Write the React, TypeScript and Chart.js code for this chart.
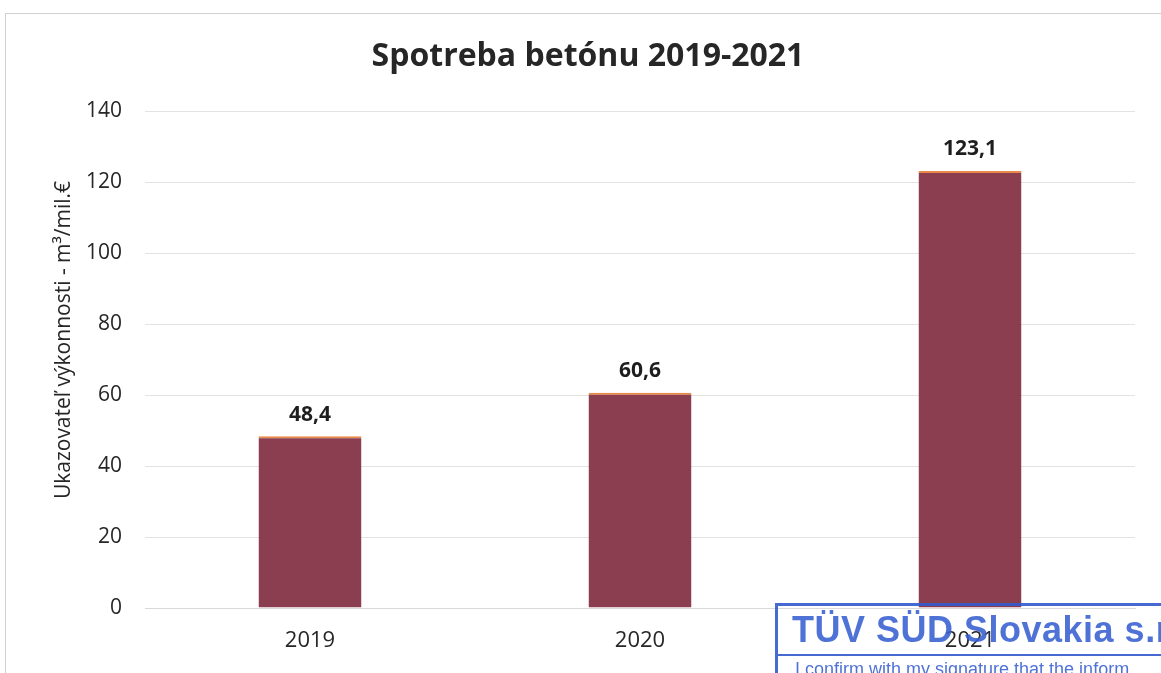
import React, { useEffect, useRef } from "react";
import { Chart, registerables } from "chart.js";

Chart.register(...registerables);

const categories: string[] = ["2019", "2020", "2021"];
const values: number[] = [48.4, 60.6, 123.1];
const valueLabels: string[] = ["48,4", "60,6", "123,1"];
const chartTitle = "Spotreba betónu 2019-2021";
const yAxisTitle = "Ukazovateľ výkonnosti - m³/mil.€";
const stampTitle = "TÜV SÜD Slovakia s.r";
const stampText = "I confirm with my signature that the inform";

const W = 1161;
const H = 673;

const overlayPlugin = {
  id: "overlayText",
  afterDatasetsDraw(chart: any) {
    const ctx = chart.ctx;
    const meta = chart.getDatasetMeta(0);
    ctx.save();
    ctx.fillStyle = "#1e1e1e";
    ctx.font = "bold 21px 'Open Sans'";
    ctx.textAlign = "center";
    ctx.textBaseline = "bottom";
    meta.data.forEach((bar: any, i: number) => {
      ctx.fillText(valueLabels[i], bar.x, bar.y - 11);
    });
    // chart title
    ctx.font = "bold 32px 'Open Sans'";
    ctx.textBaseline = "middle";
    ctx.fillStyle = "#262626";
    ctx.fillText(chartTitle, 588, 57);
    // y axis title
    ctx.translate(64, 340);
    ctx.rotate(-Math.PI / 2);
    ctx.font = "21px 'Open Sans'";
    ctx.fillStyle = "#262626";
    ctx.fillText(yAxisTitle, 0, 0);
    ctx.restore();
  },
};

export default function App() {
  const ref = useRef<HTMLCanvasElement | null>(null);
  useEffect(() => {
    document.body.style.margin = "0";
    const canvas = ref.current;
    if (!canvas) return;
    const chart = new Chart(canvas, {
      type: "bar",
      data: {
        labels: categories,
        datasets: [
          {
            data: values,
            backgroundColor: "#8a3e50",
            borderColor: "#e98a4a",
            borderWidth: { top: 2, left: 0, right: 0, bottom: 0 },
            borderSkipped: false,
            categoryPercentage: 1,
            barPercentage: 0.312,
          },
        ],
      },
      options: {
        animation: false,
        responsive: false,
        devicePixelRatio: 1,
        layout: { padding: { top: 111, right: 26, left: 0, bottom: 0 } },
        plugins: { legend: { display: false }, tooltip: { enabled: false }, title: { display: false } },
        scales: {
          x: {
            grid: { display: false, drawTicks: false },
            border: { display: true, color: "#d9d9d9", width: 1 },
            ticks: { color: "#262626", font: { family: "'Open Sans'", size: 22 }, padding: 20 },
            afterFit: (s: any) => {
              s.height = 65;
            },
          },
          y: {
            min: 0,
            max: 140,
            ticks: { stepSize: 20, color: "#262626", font: { family: "'Open Sans'", size: 21 }, padding: 23 },
            grid: { color: "#e3e3e3", lineWidth: 1, drawTicks: false },
            border: { display: false },
            afterFit: (s: any) => {
              s.width = 145;
            },
          },
        },
      },
      plugins: [overlayPlugin],
    });
    return () => chart.destroy();
  }, []);

  return (
    <div style={{ position: "relative", width: W, height: H, overflow: "hidden", background: "#fff" }}>
      <canvas ref={ref} width={W} height={H} style={{ position: "absolute", left: 0, top: 0, width: W, height: H }} />
      <div
        style={{
          position: "absolute",
          left: 5,
          top: 13,
          width: W,
          height: H,
          borderTop: "1px solid #d0d0d0",
          borderLeft: "1px solid #d0d0d0",
          pointerEvents: "none",
        }}
      />
      <div
        style={{
          position: "absolute",
          left: 775,
          top: 603,
          width: 500,
          height: 100,
          borderTop: "3px solid rgba(50,90,205,0.9)",
          borderLeft: "3px solid rgba(50,90,205,0.9)",
          pointerEvents: "none",
          fontFamily: "'Liberation Sans', Arial, sans-serif",
          color: "rgba(55,95,210,0.88)",
        }}
      >
        <div style={{ fontWeight: "bold", fontSize: 36, lineHeight: "48px", marginLeft: 14, whiteSpace: "nowrap", letterSpacing: 0.5 }}>
          {stampTitle}
        </div>
        <div style={{ borderTop: "2px solid rgba(50,90,205,0.9)", width: "100%" }} />
        <div style={{ fontSize: 18, lineHeight: "26px", marginLeft: 17, whiteSpace: "nowrap" }}>{stampText}</div>
      </div>
    </div>
  );
}
